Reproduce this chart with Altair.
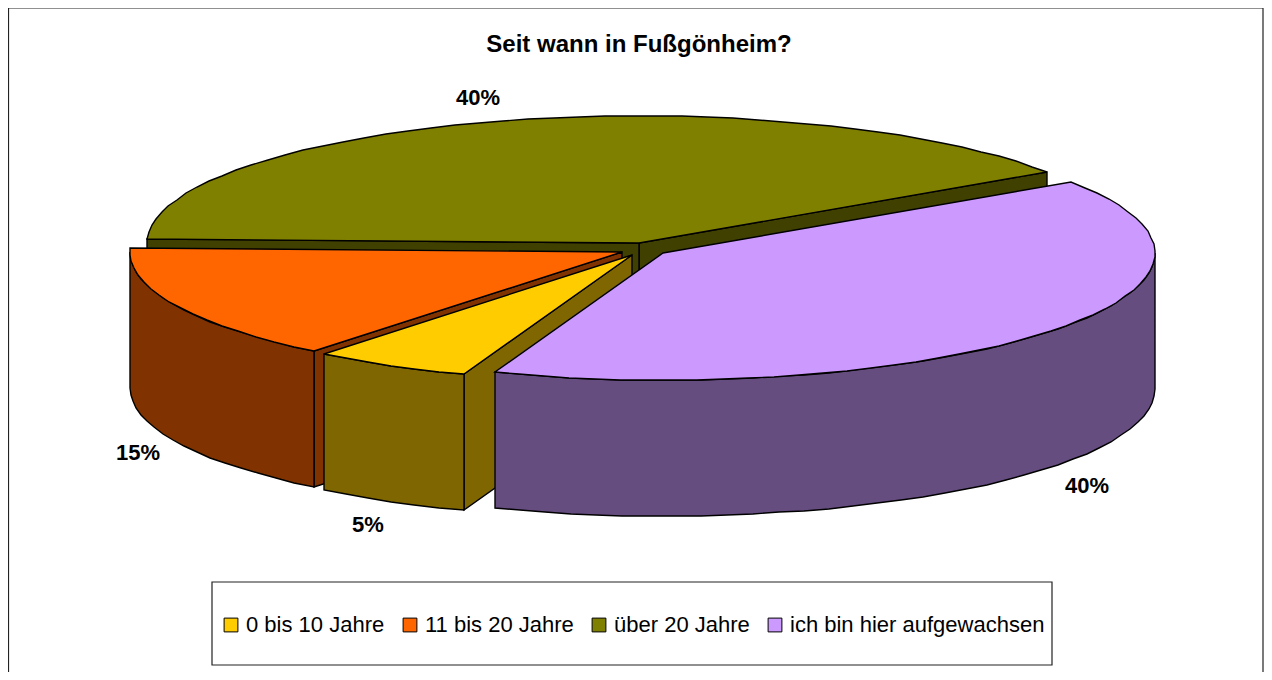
import math
import altair as alt
import pandas as pd

CATEGORIES = ["0 bis 10 Jahre", "11 bis 20 Jahre", "über 20 Jahre", "ich bin hier aufgewachsen"]
SHARES = [5.2, 14.8, 40, 40]
TOP_COLORS = ["#FFCC00", "#FF6600", "#808000", "#CC99FF"]
WALL_COLORS = ["#806600", "#803300", "#404000", "#664D80"]

# Projection of the pie: ellipse radii, wall height, start angle of the purple slice
RX, RY, DEPTH = 492, 127, 136
START_DEG = -34
# exploded slice apex in page pixels
APEX = {0: (632, 255), 1: (622, 252), 2: (639, 243), 3: (663, 253)}
LABEL_OFFSET = {0: (-23, 23), 1: (-37, 12), 2: (-25, -23), 3: (36, 19)}
STEP = 3

# slice angle ranges, clockwise from the purple slice
order_from_start = [3, 0, 1, 2]
ranges = {}
a = START_DEG
for k in order_from_start:
    ranges[k] = (a, a + SHARES[k] * 3.6)
    a += SHARES[k] * 3.6


def rim(k, t, dz=0):
    cx, cy = APEX[k]
    r = math.radians(t)
    return (round(cx + RX * math.cos(r)), round(cy + RY * math.sin(r)) + dz)


def arc(k, t0, t1):
    n = max(1, int(abs(t1 - t0) / STEP))
    return [rim(k, t0 + (t1 - t0) * i / n) for i in range(n + 1)]


def frame(points, cat=None):
    return pd.DataFrame([{"x": x, "y": y, "i": i, "cat": cat} for i, (x, y) in enumerate(points)])


xs = alt.Scale(domain=[8, 1264], nice=False, zero=False)
ys = alt.Scale(domain=[672, 8], nice=False, zero=False)
X = alt.X("x:Q", scale=xs, axis=None)
Y = alt.Y("y:Q", scale=ys, axis=None)
ORD = alt.Order("i:Q")
SW = 1.4

LEGEND = alt.Legend(
    title=None, orient="none", legendX=220 - 8, legendY=614 - 8, direction="horizontal",
    columns=4, symbolType="square", symbolSize=190, symbolStrokeColor="black",
    symbolStrokeWidth=1, labelFont="Liberation Sans", labelFontSize=22, labelColor="black",
    labelOffset=4, columnPadding=14, padding=0, labelLimit=400, symbolOpacity=1,
)


def wall(points, color):
    return alt.Chart(frame(points)).mark_line(
        interpolate="linear-closed", fill=color, stroke="black", strokeWidth=SW
    ).encode(x=X, y=Y, order=ORD)


def top(points, k):
    return alt.Chart(frame(points, CATEGORIES[k])).mark_line(
        interpolate="linear-closed", stroke="black", strokeWidth=SW
    ).encode(
        x=X, y=Y, order=ORD,
        fill=alt.Fill("cat:N", scale=alt.Scale(domain=CATEGORIES, range=TOP_COLORS),
                      sort=CATEGORIES, legend=LEGEND),
    )


def inner_wall(k, t):
    cx, cy = APEX[k]
    p = rim(k, t)
    return wall([(cx, cy), p, (p[0], p[1] + DEPTH), (cx, cy + DEPTH)], WALL_COLORS[k])


def outer_wall(k, t0, t1):
    pts = arc(k, t0, t1)
    return wall(pts + [(x, y + DEPTH) for x, y in reversed(pts)], WALL_COLORS[k])


def top_face(k):
    t0, t1 = ranges[k]
    return top([APEX[k]] + arc(k, t0, t1), k)


layers = []
# olive slice, back
layers += [inner_wall(2, ranges[2][1]), inner_wall(2, ranges[2][0]), top_face(2)]
# orange slice
layers += [inner_wall(1, ranges[1][0]), outer_wall(1, ranges[1][0], 180), top_face(1)]
# yellow slice
layers += [inner_wall(0, ranges[0][0]), outer_wall(0, *ranges[0]), top_face(0)]
# purple slice
layers += [outer_wall(3, 0, ranges[3][1]), top_face(3)]

# percentage labels, placed from the rim point at each slice's mid angle
rows = []
for k, share in enumerate(SHARES):
    mid = sum(ranges[k]) / 2
    front = math.sin(math.radians(mid)) > 0
    x, y = rim(k, mid, DEPTH if front else 0)
    dx, dy = LABEL_OFFSET[k]
    rows.append({"x": x + dx, "y": y + dy, "label": f"{round(share)}%"})
labels = alt.Chart(pd.DataFrame(rows)).mark_text(
    font="Liberation Sans", fontSize=22, fontWeight="bold", color="black", align="center", baseline="middle"
).encode(x=X, y=Y, text="label:N")
layers.append(labels)

# chart frame and legend box
boxes = pd.DataFrame([
    {"x": 8.5, "x2": 1263, "y": 8, "y2": 690},
    {"x": 212, "x2": 1052, "y": 582, "y2": 665},
])
box = alt.Chart(boxes).mark_rect(filled=False, stroke="#222222", strokeWidth=1.2).encode(
    x=X, x2="x2:Q", y=Y, y2="y2:Q"
)
layers.insert(0, box)

chart = alt.layer(*layers).properties(
    width=1256, height=664, padding=0, autosize=alt.AutoSizeParams(type="none"),
    title=alt.TitleParams(
        "Seit wann in Fußgönheim?", font="Liberation Sans", fontSize=24, fontWeight="bold",
        color="black", anchor="start", frame="group", align="center", baseline="middle",
        dx=631, dy=62, offset=0,
    ),
).configure_view(stroke=None)

chart.save("out.html", embed_options={"renderer": "svg", "actions": False})
